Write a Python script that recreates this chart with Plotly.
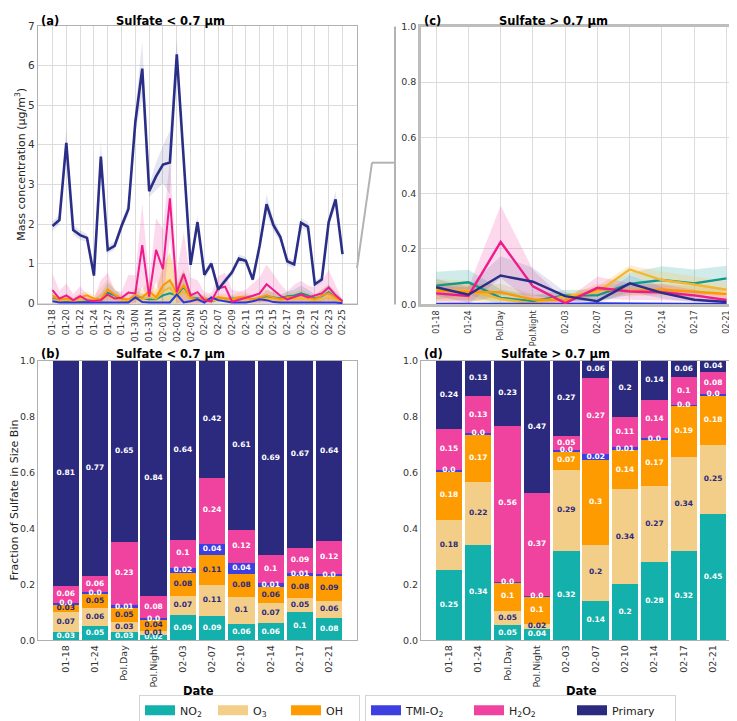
import plotly.graph_objects as go

# ---------------- data ----------------
dates_a = ["01-18", "01-19", "01-20", "01-21", "01-22", "01-23", "01-24", "01-26", "01-27", "01-28",
           "01-29", "01-30D", "01-30N", "01-31D", "01-31N", "02-01D", "02-01N", "02-02D", "02-02N", "02-03D",
           "02-03N", "02-04", "02-05", "02-06", "02-07", "02-08", "02-09", "02-10", "02-11", "02-12",
           "02-13", "02-14", "02-15", "02-16", "02-17", "02-18", "02-19", "02-20", "02-21", "02-22",
           "02-23", "02-24", "02-25"]
ticks_a = ["01-18", "01-20", "01-22", "01-24", "01-27", "01-29", "01-30N", "01-31N", "02-01N", "02-02N",
           "02-03N", "02-05", "02-07", "02-09", "02-11", "02-13", "02-15", "02-17", "02-19", "02-21",
           "02-23", "02-25"]

prim_a = [1.95, 2.1, 4.05, 1.85, 1.72, 1.65, 0.7, 3.7, 1.35, 1.45, 1.95, 2.38, 4.58, 5.92, 2.83, 3.2, 3.5,
          3.55, 6.28, 3.6, 0.97, 2.05, 0.72, 1.0, 0.35, 0.57, 0.78, 1.13, 1.07, 0.6, 1.45, 2.5, 1.97, 1.67,
          1.06, 0.98, 2.03, 1.93, 0.48, 0.6, 2.05, 2.62, 1.24]
prim_a_err = [0.12, 0.12, 0.35, 0.12, 0.12, 0.1, 0.1, 0.4, 0.1, 0.1, 0.12, 0.15, 0.3, 0.7, 0.15, 0.35, 0.48,
              0.8, 0.37, 0.3, 0.15, 0.15, 0.1, 0.1, 0.08, 0.08, 0.1, 0.1, 0.1, 0.08, 0.12, 0.25, 0.15, 0.12,
              0.1, 0.1, 0.12, 0.12, 0.08, 0.08, 0.12, 0.2, 0.1]
h2o2_a = [0.33, 0.12, 0.2, 0.08, 0.18, 0.08, 0.06, 0.08, 0.22, 0.12, 0.14, 0.27, 0.25, 1.47, 0.17, 1.35, 0.86,
          2.65, 0.28, 0.74, 0.2, 0.28, 0.08, 0.05, 0.38, 0.42, 0.04, 0.1, 0.14, 0.19, 0.25, 0.48, 0.33, 0.19,
          0.1, 0.17, 0.22, 0.15, 0.2, 0.25, 0.4, 0.2, 0.05]
h2o2_a_err = [0.42, 0.2, 0.3, 0.15, 0.25, 0.15, 0.05, 0.5, 0.55, 0.2, 0.15, 0.45, 0.45, 1.05, 0.4, 0.8, 1.0,
              1.0, 0.5, 1.05, 0.45, 0.3, 0.2, 0.2, 0.3, 0.35, 0.3, 0.2, 0.2, 0.3, 0.4, 0.5, 0.4, 0.3, 0.2,
              0.3, 0.35, 0.3, 0.2, 0.3, 0.45, 0.25, 0.05]
oh_a = [0.2, 0.1, 0.12, 0.08, 0.15, 0.2, 0.12, 0.1, 0.35, 0.22, 0.12, 0.1, 0.2, 0.15, 0.3, 0.15, 0.45, 0.58,
        0.25, 0.45, 0.15, 0.1, 0.12, 0.1, 0.15, 0.12, 0.1, 0.15, 0.15, 0.1, 0.15, 0.2, 0.15, 0.1, 0.15, 0.15,
        0.2, 0.15, 0.1, 0.2, 0.25, 0.15, 0.05]
oh_a_err = [0.1, 0.08, 0.1, 0.08, 0.1, 0.1, 0.08, 0.3, 0.25, 0.15, 0.1, 0.1, 0.2, 0.2, 0.3, 0.2, 0.5, 0.7, 0.3,
            0.4, 0.15, 0.1, 0.1, 0.1, 0.1, 0.1, 0.1, 0.12, 0.12, 0.1, 0.12, 0.15, 0.12, 0.1, 0.12, 0.12, 0.15,
            0.12, 0.1, 0.15, 0.2, 0.12, 0.05]
no2_a = [0.12, 0.06, 0.05, 0.04, 0.05, 0.04, 0.05, 0.05, 0.27, 0.2, 0.1, 0.05, 0.18, 0.12, 0.1, 0.1, 0.2, 0.25,
         0.2, 0.42, 0.15, 0.12, 0.1, 0.05, 0.1, 0.08, 0.12, 0.1, 0.12, 0.1, 0.1, 0.18, 0.15, 0.12, 0.18, 0.2,
         0.25, 0.2, 0.12, 0.18, 0.28, 0.15, 0.05]
no2_a_err = [0.08, 0.05, 0.05, 0.04, 0.05, 0.04, 0.05, 0.2, 0.25, 0.15, 0.08, 0.05, 0.15, 0.12, 0.1, 0.1, 0.2,
             0.35, 0.25, 0.4, 0.12, 0.1, 0.08, 0.05, 0.08, 0.06, 0.08, 0.08, 0.1, 0.08, 0.08, 0.15, 0.12, 0.1,
             0.12, 0.15, 0.2, 0.15, 0.1, 0.15, 0.2, 0.12, 0.04]
o3_a = [0.1, 0.05, 0.08, 0.05, 0.08, 0.1, 0.06, 0.06, 0.2, 0.12, 0.08, 0.06, 0.12, 0.1, 0.15, 0.12, 0.3, 0.4,
        0.15, 0.3, 0.1, 0.08, 0.08, 0.06, 0.1, 0.08, 0.08, 0.1, 0.1, 0.08, 0.1, 0.12, 0.1, 0.08, 0.1, 0.1,
        0.12, 0.1, 0.08, 0.1, 0.15, 0.1, 0.03]
o3_a_err = [0.06, 0.05, 0.05, 0.04, 0.05, 0.05, 0.04, 0.2, 0.2, 0.12, 0.06, 0.05, 0.12, 0.12, 0.15, 0.2, 0.6,
            0.9, 0.3, 0.5, 0.1, 0.08, 0.06, 0.05, 0.08, 0.06, 0.06, 0.08, 0.08, 0.06, 0.08, 0.1, 0.08, 0.06,
            0.08, 0.08, 0.1, 0.08, 0.06, 0.08, 0.12, 0.08, 0.03]
tmi_a = [0.05, 0.02, 0.02, 0.02, 0.02, 0.02, 0.02, 0.02, 0.02, 0.02, 0.02, 0.02, 0.15, 0.03, 0.02, 0.02, 0.02,
         0.02, 0.22, 0.02, 0.05, 0.1, 0.02, 0.15, 0.08, 0.05, 0.02, 0.02, 0.02, 0.05, 0.1, 0.08, 0.03, 0.02,
         0.02, 0.02, 0.02, 0.02, 0.02, 0.02, 0.02, 0.02, 0.0]

cats = ["01-18", "01-24", "Pol.Day", "Pol.Night", "02-03", "02-07", "02-10", "02-14", "02-17", "02-21"]

no2_c = [0.068, 0.08, 0.024, 0.012, 0.033, 0.033, 0.074, 0.088, 0.076, 0.094]
no2_c_err = [0.05, 0.045, 0.03, 0.02, 0.02, 0.02, 0.04, 0.05, 0.05, 0.045]
o3_c = [0.052, 0.05, 0.02, 0.004, 0.03, 0.045, 0.126, 0.088, 0.072, 0.053]
o3_c_err = [0.04, 0.035, 0.02, 0.01, 0.01, 0.02, 0.015, 0.03, 0.03, 0.03]
oh_c = [0.05, 0.045, 0.044, 0.018, 0.015, 0.055, 0.05, 0.053, 0.046, 0.038]
oh_c_err = [0.03, 0.03, 0.03, 0.02, 0.01, 0.02, 0.02, 0.02, 0.02, 0.02]
tmi_c = [0.002, 0.002, 0.003, 0.001, 0.002, 0.004, 0.003, 0.001, 0.001, 0.001]
h2o2_c = [0.04, 0.031, 0.225, 0.065, 0.005, 0.06, 0.047, 0.044, 0.033, 0.016]
h2o2_c_err = [0.03, 0.03, 0.13, 0.06, 0.01, 0.04, 0.03, 0.03, 0.02, 0.015]
prim_c = [0.062, 0.035, 0.104, 0.082, 0.03, 0.012, 0.076, 0.042, 0.017, 0.009]
prim_c_err = [0.03, 0.03, 0.07, 0.05, 0.015, 0.01, 0.03, 0.02, 0.01, 0.005]

# fractions (panel b: < 0.7 um)
no2_b = [0.03, 0.052, 0.03, 0.02, 0.09, 0.088, 0.058, 0.062, 0.1, 0.08]
o3_b = [0.07, 0.062, 0.034, 0.014, 0.07, 0.108, 0.098, 0.07, 0.05, 0.062]
oh_b = [0.03, 0.053, 0.05, 0.04, 0.08, 0.11, 0.08, 0.06, 0.08, 0.09]
tmi_b = [0.004, 0.004, 0.012, 0.004, 0.02, 0.04, 0.042, 0.014, 0.01, 0.004]
h2o2_b = [0.06, 0.06, 0.226, 0.08, 0.1, 0.236, 0.116, 0.1, 0.09, 0.12]
prim_b = [0.806, 0.769, 0.648, 0.842, 0.64, 0.418, 0.606, 0.694, 0.67, 0.644]

# fractions (panel d: > 0.7 um)
no2_d = [0.25, 0.341, 0.053, 0.042, 0.32, 0.142, 0.2, 0.28, 0.318, 0.45]
o3_d = [0.18, 0.224, 0.053, 0.018, 0.29, 0.2, 0.34, 0.27, 0.336, 0.25]
oh_d = [0.176, 0.173, 0.102, 0.098, 0.068, 0.302, 0.14, 0.17, 0.186, 0.178]
tmi_d = [0.002, 0.002, 0.002, 0.002, 0.002, 0.022, 0.01, 0.002, 0.002, 0.002]
h2o2_d = [0.148, 0.133, 0.558, 0.368, 0.05, 0.272, 0.11, 0.138, 0.098, 0.08]
prim_d = [0.244, 0.127, 0.232, 0.472, 0.27, 0.062, 0.2, 0.14, 0.06, 0.04]

species = ["NO<sub>2</sub>", "O<sub>3</sub>", "OH", "TMI-O<sub>2</sub>", "H<sub>2</sub>O<sub>2</sub>", "Primary"]

# ---------------- styling ----------------
W, H = 737, 721
FONT = "DejaVu Sans"
NAVY = "#2C2A7E"
bar_colors = ["#14B0AC", "#F3CE88", "#FE9B00", "#3E3FE0", "#F043A0", "#2C2A7E"]
line_colors = ["#14988C", "#F4B731", "#FF9700", "#2A36E0", "#EF1B8D", "#2A2E86"]
band_colors = ["rgba(20,160,150,0.20)", "rgba(243,200,110,0.30)", "rgba(254,155,0,0.18)", None,
               "rgba(240,67,160,0.20)", "rgba(42,46,134,0.12)"]
txt_b = ["white", NAVY, NAVY, "white", "white", "white"]
txt_d = ["white", NAVY, "white", "white", "white", "white"]


def px(x):
    return x / W


def py(y):
    return 1 - y / H


fig = go.Figure()


def add_band(x, v, e, color, xa, ya):
    lo = [max(a - b, 0) for a, b in zip(v, e)]
    hi = [a + b for a, b in zip(v, e)]
    fig.add_trace(go.Scatter(x=x, y=lo, mode="lines", line=dict(width=0), showlegend=False,
                             hoverinfo="skip", xaxis=xa, yaxis=ya))
    fig.add_trace(go.Scatter(x=x, y=hi, mode="lines", line=dict(width=0), fill="tonexty",
                             fillcolor=color, showlegend=False, hoverinfo="skip", xaxis=xa, yaxis=ya))


# panel (a)
series_a = [(no2_a, no2_a_err), (o3_a, o3_a_err), (oh_a, oh_a_err), (tmi_a, None),
            (h2o2_a, h2o2_a_err), (prim_a, prim_a_err)]
for k, (v, e) in enumerate(series_a):
    if e is not None:
        add_band(dates_a, v, e, band_colors[k], "x", "y")
for k, (v, e) in enumerate(series_a):
    fig.add_trace(go.Scatter(x=dates_a, y=v, mode="lines",
                             line=dict(color=line_colors[k], width=2.6 if k == 5 else 2.0),
                             showlegend=False, hoverinfo="skip", xaxis="x", yaxis="y"))

# panel (c)
series_c = [(no2_c, no2_c_err), (o3_c, o3_c_err), (oh_c, oh_c_err), (tmi_c, None),
            (h2o2_c, h2o2_c_err), (prim_c, prim_c_err)]
for k, (v, e) in enumerate(series_c):
    if e is not None:
        add_band(cats, v, e, band_colors[k], "x2", "y2")
for k, (v, e) in enumerate(series_c):
    fig.add_trace(go.Scatter(x=cats, y=v, mode="lines",
                             line=dict(color=line_colors[k], width=2.4),
                             showlegend=False, hoverinfo="skip", xaxis="x2", yaxis="y2"))

# panels (b) and (d): stacked bars + value labels
for data, tcols, xa, ya in [([no2_b, o3_b, oh_b, tmi_b, h2o2_b, prim_b], txt_b, "x3", "y3"),
                            ([no2_d, o3_d, oh_d, tmi_d, h2o2_d, prim_d], txt_d, "x4", "y4")]:
    for k, vals in enumerate(data):
        fig.add_trace(go.Bar(x=cats, y=vals, width=0.9,
                             marker=dict(color=bar_colors[k], line=dict(width=0)),
                             showlegend=False, hoverinfo="skip", xaxis=xa, yaxis=ya))
    base = [0.0] * len(cats)
    for k, vals in enumerate(data):
        mids = [b + v / 2 for b, v in zip(base, vals)]
        fig.add_trace(go.Scatter(x=cats, y=mids, mode="text",
                                 text=[str(round(v, 2)) for v in vals], textposition="middle center",
                                 textfont=dict(family=FONT, size=7.5, color=tcols[k], weight="bold"),
                                 showlegend=False, hoverinfo="skip", xaxis=xa, yaxis=ya, cliponaxis=False))
        base = [b + v for b, v in zip(base, vals)]

# legend-only entries
for k, name in enumerate(species):
    fig.add_trace(go.Scatter(x=[None], y=[None], mode="lines", name=name,
                             line=dict(color=bar_colors[k], width=10),
                             legend="legend" if k < 3 else "legend2", xaxis="x3", yaxis="y3"))

GRID = "#dcdcdc"
SPINE = "#b0b0b0"
TICKC = "#333333"

common_x = dict(type="category", tickangle=-90, ticks="", showline=True, mirror=True,
                linecolor=SPINE, linewidth=1.2, zeroline=False, color=TICKC, fixedrange=True)
common_y = dict(ticks="", showline=True, mirror=True, linecolor=SPINE, linewidth=1.2,
                zeroline=False, color=TICKC, fixedrange=True)
leg = dict(orientation="h", yanchor="middle", y=py(707), xanchor="left", traceorder="normal",
           bordercolor="#d4d4d4", borderwidth=1, bgcolor="white",
           font=dict(size=11, family=FONT, color="#222222"), itemwidth=30, tracegroupgap=0)

fig.update_layout(
    width=W, height=H, margin=dict(l=0, r=0, t=0, b=0),
    paper_bgcolor="white", plot_bgcolor="white",
    font=dict(family=FONT, color="#222222"),
    barmode="stack", hovermode=False,
    xaxis=dict(common_x, domain=[px(30), px(349)], anchor="y", range=[-2.1, 44.1],
               categoryorder="array", categoryarray=dates_a, tickvals=ticks_a, ticktext=ticks_a,
               tickfont=dict(size=9), showgrid=True, gridcolor=GRID),
    yaxis=dict(common_y, domain=[py(295), py(12)], anchor="x", range=[-0.03, 7], dtick=1,
               tickfont=dict(size=10.5), showgrid=True, gridcolor=GRID),
    xaxis2=dict(common_x, domain=[px(413), px(733)], anchor="y2", range=[-0.47, 9.45],
                categoryorder="array", categoryarray=cats, tickfont=dict(size=8),
                showgrid=True, gridcolor=GRID, linecolor="#bdbdbd", linewidth=2.5),
    yaxis2=dict(common_y, domain=[py(295), py(12.7)], anchor="x2", range=[0, 1], dtick=0.2,
                tickformat=".1f", tickfont=dict(size=9.5), showgrid=True, gridcolor=GRID,
                linecolor="#bdbdbd", linewidth=2.5),
    xaxis3=dict(common_x, domain=[px(30), px(349)], anchor="y3", range=[-0.95, 9.95],
                categoryorder="array", categoryarray=cats, tickfont=dict(size=9.5), showgrid=False),
    yaxis3=dict(common_y, domain=[py(636), py(352)], anchor="x3", range=[0, 1], dtick=0.2,
                tickformat=".1f", tickfont=dict(size=9.5), showgrid=False),
    xaxis4=dict(common_x, domain=[px(413), px(733)], anchor="y4", range=[-0.95, 9.95],
                categoryorder="array", categoryarray=cats, tickfont=dict(size=9.5), showgrid=False),
    yaxis4=dict(common_y, domain=[py(636), py(352)], anchor="x4", range=[0, 1], dtick=0.2,
                tickformat=".1f", tickfont=dict(size=9.5), showgrid=False),
    legend=dict(leg, x=px(131), entrywidth=28, entrywidthmode="pixels"),
    legend2=dict(leg, x=px(357), entrywidth=58, entrywidthmode="pixels"),
)

# titles / labels
ann = []
bold = dict(family=FONT, size=11.5, color="black", weight="bold")
for label, x, y in [("(a)", 31, 7), ("(c)", 414, 7), ("(b)", 31, 345), ("(d)", 414, 345)]:
    ann.append(dict(text=label, x=px(x), y=py(y), xref="paper", yref="paper", xanchor="left",
                    yanchor="middle", showarrow=False, font=bold))
for label, x, y in [("Sulfate &lt; 0.7 µm", 162, 7), ("Sulfate &gt; 0.7 µm", 545, 7),
                    ("Sulfate &lt; 0.7 µm", 162, 345), ("Sulfate &gt; 0.7 µm", 547, 345),
                    ("Date", 190, 687), ("Date", 573, 687)]:
    ann.append(dict(text=label, x=px(x), y=py(y), xref="paper", yref="paper", xanchor="center",
                    yanchor="middle", showarrow=False, font=bold))
ann.append(dict(text="Mass concentration (µg/m<sup>3</sup>)", x=px(13), y=py(153), xref="paper",
                yref="paper", textangle=-90, showarrow=False, xanchor="center", yanchor="middle",
                font=dict(family=FONT, size=11, color="#222222")))
ann.append(dict(text="Fraction of Sulfate in Size Bin", x=px(6), y=py(494), xref="paper",
                yref="paper", textangle=-90, showarrow=False, xanchor="center", yanchor="middle",
                font=dict(family=FONT, size=11, color="#222222")))
fig.update_layout(annotations=ann)

# zoom-indicator connector lines
conn = dict(color="#b3b3b3", width=2)
shapes = [
    dict(type="line", xref="paper", yref="paper", x0=px(387), y0=py(12.7), x1=px(387), y1=py(295), line=conn),
    dict(type="line", xref="paper", yref="paper", x0=px(364), y0=py(151), x1=px(387), y1=py(151), line=conn),
    dict(type="line", xref="paper", yref="paper", x0=px(349), y0=py(258), x1=px(364), y1=py(151), line=conn),
]
fig.update_layout(shapes=shapes)

fig.write_html("out.html")
